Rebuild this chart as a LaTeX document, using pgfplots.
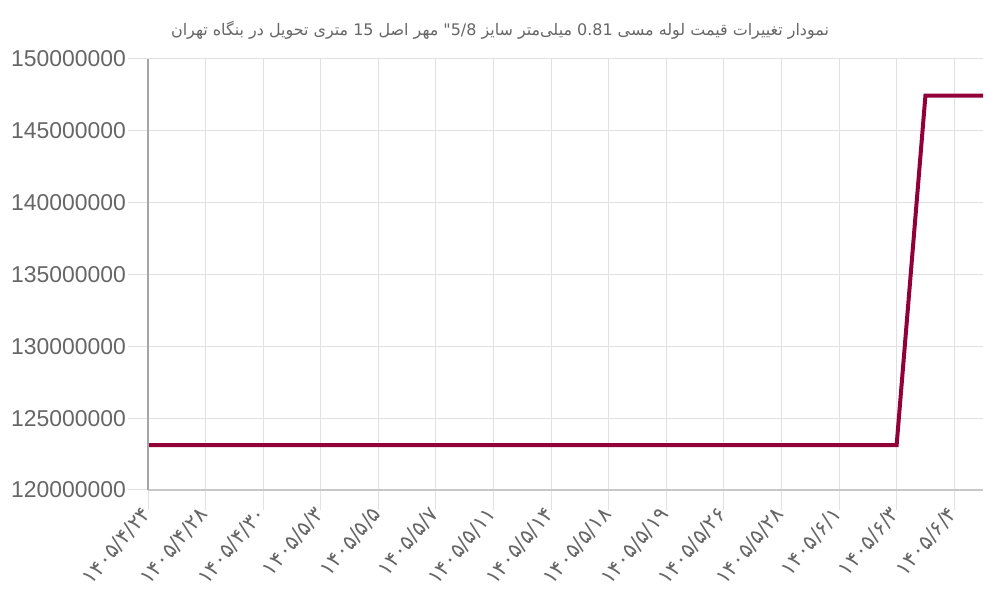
\documentclass[border=0pt]{standalone}
\usepackage{fontspec}
\usepackage{pgfplots}
\pgfplotsset{compat=1.18}
\setmainfont{Liberation Sans}
\newfontfamily\arabicfont[Script=Arabic]{DejaVu Sans}
\newfontfamily\fadigits{DejaVu Sans}
\TeXXeTstate=1

\definecolor{linecol}{RGB}{146,0,58}
\definecolor{txtgray}{RGB}{102,102,102}
\definecolor{gridgray}{RGB}{225,225,225}
\definecolor{yaxisgray}{RGB}{165,165,165}
\definecolor{xaxisgray}{RGB}{200,200,200}

\begin{document}
\begin{tikzpicture}[x=1bp,y=1bp]
\path[use as bounding box] (0,0) rectangle (1000,600);
\node[text=txtgray, font=\arabicfont\fontsize{16}{19}\selectfont] at (500,570)
  {\beginR نمودار تغییرات قیمت لوله مسی \beginL 0.81\endL{} میلی‌متر سایز \beginL 5/8"\endL{} مهر اصل \beginL 15\endL{} متری تحویل در بنگاه تهران\endR};
\begin{axis}[
  at={(148bp,110bp)}, anchor=south west,
  scale only axis, width=835bp, height=431bp,
  xmin=0, xmax=14.5,
  ymin=120000000, ymax=150000000,
  xtick={0,1,2,3,4,5,6,7,8,9,10,11,12,13,14},
  xticklabels={۱۴۰۵/۴/۲۴,۱۴۰۵/۴/۲۸,۱۴۰۵/۴/۳۰,۱۴۰۵/۵/۳,۱۴۰۵/۵/۵,۱۴۰۵/۵/۷,۱۴۰۵/۵/۱۱,۱۴۰۵/۵/۱۴,۱۴۰۵/۵/۱۸,۱۴۰۵/۵/۱۹,۱۴۰۵/۵/۲۶,۱۴۰۵/۵/۲۸,۱۴۰۵/۶/۱,۱۴۰۵/۶/۳,۱۴۰۵/۶/۴},
  ytick={120000000,125000000,130000000,135000000,140000000,145000000,150000000},
  scaled y ticks=false,
  yticklabel style={/pgf/number format/fixed, /pgf/number format/1000 sep={},
    /pgf/number format/assume math mode=true,
    font=\fontsize{23}{26}\selectfont, text=txtgray, inner sep=2bp},
  xticklabel style={rotate=50, anchor=east, inner sep=1bp, yshift=1bp,
    font=\fadigits\fontsize{21}{23}\selectfont, text=txtgray},
  xtick pos=bottom, ytick pos=left,
  grid=major, grid style={gridgray, line width=1bp},
  tick align=outside, major tick length=20bp,
  tick style={gridgray, line width=1bp},
  axis line style={draw=none},
  clip=false,
]
\addplot[linecol, line width=4bp, line join=miter] table {
0 123130000
0.5 123130000
1 123130000
1.5 123130000
2 123130000
2.5 123130000
3 123130000
3.5 123130000
4 123130000
4.5 123130000
5 123130000
5.5 123130000
6 123130000
6.5 123130000
7 123130000
7.5 123130000
8 123130000
8.5 123130000
9 123130000
9.5 123130000
10 123130000
10.5 123130000
11 123130000
11.5 123130000
12 123130000
12.5 123130000
13 123130000
13.5 147450000
14 147450000
14.5 147450000
};
\draw[xaxisgray, line width=2bp] (rel axis cs:0,0) -- (rel axis cs:1,0);
\draw[yaxisgray, line width=1.5bp] (rel axis cs:0,0) -- (rel axis cs:0,1);
\end{axis}
\end{tikzpicture}
\end{document}
